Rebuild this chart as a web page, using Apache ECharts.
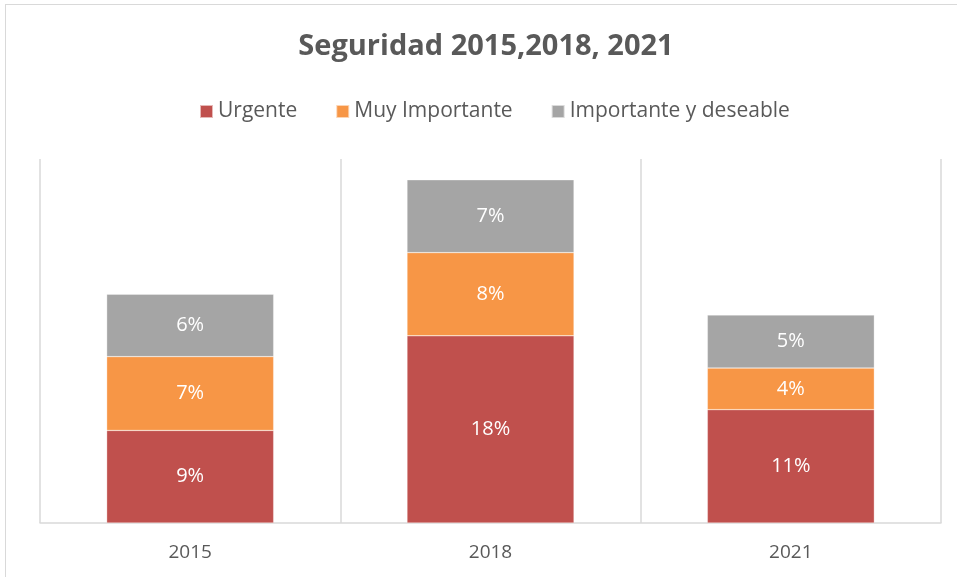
<!DOCTYPE html>
<html>
<head>
<meta charset="utf-8">
<script src="https://cdn.jsdelivr.net/npm/echarts@6/dist/echarts.min.js"></script>
<style>
  html, body { margin: 0; padding: 0; background: #fff; overflow: hidden; }
  #chart {
    position: absolute;
    left: 5px;
    top: 4px;
    width: 960px;
    height: 580px;
    border-top: 1px solid #d9d9d9;
    border-left: 1px solid #d9d9d9;
  }
</style>
</head>
<body>
<div id="chart"></div>
<script>
const years = ['2015', '2018', '2021']
const urgente = [8.9, 18.0, 10.9]
const muyImportante = [7.1, 8.0, 4.0]
const deseable = [6.0, 7.0, 5.1]

const chart = echarts.init(document.getElementById('chart'))

const labelStyle = {
  show: true,
  position: 'inside',
  color: '#ffffff',
  fontSize: 20,
  fontFamily: 'Open Sans',
  formatter: p => Math.round(p.value) + '%'
}

function makeSeries(name, data, color) {
  return {
    name: name,
    type: 'bar',
    stack: 'total',
    data: data,
    barWidth: 167,
    itemStyle: { color: color, borderColor: 'rgba(255,255,255,0.6)', borderWidth: 0.5 },
    label: labelStyle
  }
}

chart.setOption({
  animation: false,
  title: {
    text: 'Seguridad 2015,2018, 2021',
    left: 'center',
    top: 22,
    textStyle: {
      color: '#595959',
      fontSize: 29,
      fontWeight: 'bold',
      fontFamily: 'Open Sans'
    }
  },
  legend: {
    top: 91,
    left: 188,
    itemWidth: 13,
    itemHeight: 13,
    itemGap: 38,
    icon: 'rect',
    textStyle: { color: '#595959', fontSize: 21, fontFamily: 'Open Sans' },
    data: ['Urgente', 'Muy Importante', 'Importante y deseable']
  },
  grid: { left: 34, right: 25, top: 154, bottom: 62, containLabel: false },
  xAxis: {
    type: 'category',
    data: years,
    axisLine: { lineStyle: { color: '#d9d9d9', width: 1.5 } },
    axisTick: { show: false },
    splitLine: { show: true, lineStyle: { color: '#d9d9d9', width: 1.5 } },
    axisLabel: {
      color: '#595959',
      fontSize: 19,
      fontFamily: 'Open Sans',
      margin: 20
    }
  },
  yAxis: {
    type: 'value',
    min: 0,
    max: 35,
    show: false,
    splitLine: { show: false }
  },
  series: [
    makeSeries('Urgente', urgente, '#C0504D'),
    makeSeries('Muy Importante', muyImportante, '#F79646'),
    makeSeries('Importante y deseable', deseable, '#A5A5A5')
  ]
})
</script>
</body>
</html>
